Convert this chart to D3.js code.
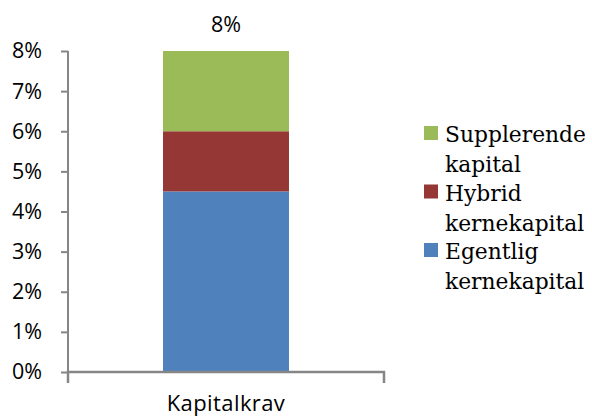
<!DOCTYPE html>
<html>
<head>
<meta charset="utf-8">
<script src="https://cdn.jsdelivr.net/npm/d3@7"></script>
<style>
  html, body { margin: 0; padding: 0; background: #fff; }
  svg { display: block; }
</style>
</head>
<body>
<svg id="chart" width="592" height="418"></svg>
<script>
const categories = ["Kapitalkrav"];
const seriesNames = ["Egentlig kernekapital", "Hybrid kernekapital", "Supplerende kapital"];
const legendLines = [["Supplerende", "kapital"], ["Hybrid", "kernekapital"], ["Egentlig", "kernekapital"]];
const egentlig = [0.045];
const hybrid = [0.015];
const supplerende = [0.02];
const totals = [0.08];
const yTicks = [0, 0.01, 0.02, 0.03, 0.04, 0.05, 0.06, 0.07, 0.08];
const colors = ["#4F81BD", "#953735", "#9BBB59"];

const svg = d3.select("#chart");
const axisColor = "#868686";
const sans = "'Open Sans', sans-serif";
const serif = "'DejaVu Serif', serif";

const x = d3.scaleBand().domain(categories).range([68, 384]).padding(0.43);
const y = d3.scaleLinear().domain([0, 0.08]).range([372, 51]);

const rows = categories.map((c, i) => ({
  cat: c,
  [seriesNames[0]]: egentlig[i],
  [seriesNames[1]]: hybrid[i],
  [seriesNames[2]]: supplerende[i]
}));
const stacked = d3.stack().keys(seriesNames)(rows);

svg.append("g").selectAll("g").data(stacked).join("g")
  .attr("fill", (d, i) => colors[i])
  .selectAll("rect").data(d => d).join("rect")
  .attr("x", d => x(d.data.cat))
  .attr("width", x.bandwidth())
  .attr("y", d => y(d[1]))
  .attr("height", d => y(d[0]) - y(d[1]));

// Y axis
const yAxis = svg.append("g").attr("transform", "translate(68,0)")
  .call(d3.axisLeft(y).tickValues(yTicks).tickFormat(d3.format(".0%")).tickSize(7).tickPadding(19));
yAxis.select(".domain").attr("stroke", axisColor).attr("stroke-width", 2).attr("d", `M0,${y(0.08)}V${y(0)}`);
yAxis.selectAll(".tick line").attr("stroke", axisColor).attr("stroke-width", 2);
yAxis.selectAll(".tick text").attr("font-family", sans).attr("font-size", 21.5).attr("fill", "#000");

// X axis
const xAxis = svg.append("g").attr("transform", `translate(0,${y(0)})`)
  .call(d3.axisBottom(x).tickSize(0).tickPadding(23));
xAxis.select(".domain").attr("stroke", axisColor).attr("stroke-width", 2.5)
  .attr("d", "M68,11V0H384V11");
xAxis.selectAll(".tick text").attr("font-family", sans).attr("font-size", 22)
  .attr("letter-spacing", 0.4).attr("fill", "#000");

// Total label
svg.append("g").selectAll("text").data(categories).join("text")
  .attr("x", d => x(d) + x.bandwidth() / 2)
  .attr("y", (d, i) => y(totals[i]) - 19)
  .attr("text-anchor", "middle")
  .attr("font-family", sans).attr("font-size", 21.5).attr("fill", "#000")
  .text((d, i) => d3.format(".0%")(totals[i]));

// Legend
const legendColors = [colors[2], colors[1], colors[0]];
const lg = svg.append("g").attr("transform", "translate(424,126)");
const items = lg.selectAll("g").data(legendLines).join("g")
  .attr("transform", (d, i) => `translate(0,${i * 58.5})`);
items.append("rect").attr("width", 14).attr("height", 14)
  .attr("fill", (d, i) => legendColors[i]);
items.each(function(lines) {
  const t = d3.select(this).append("text")
    .attr("font-family", serif).attr("font-size", 21.8).attr("fill", "#000");
  lines.forEach((l, j) => {
    t.append("tspan").attr("x", 21).attr("y", 16 + j * 30).text(l);
  });
});
</script>
</body>
</html>
